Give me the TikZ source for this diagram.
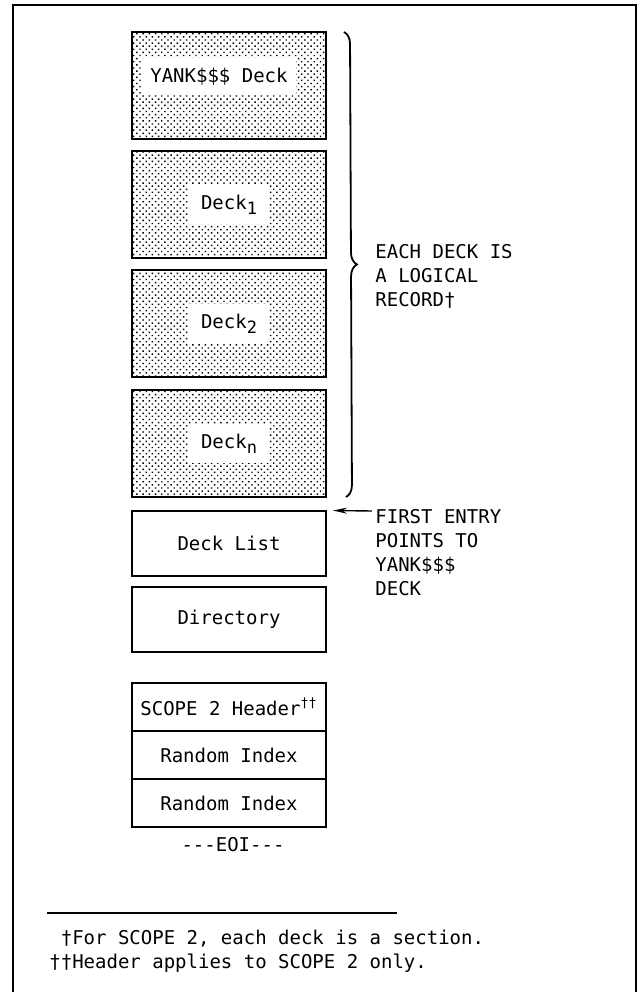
\documentclass[tikz,border=0pt]{standalone}
\usepackage{fontspec}
\usetikzlibrary{positioning,patterns.meta,decorations.pathreplacing,arrows.meta}
\newfontfamily\decktt{DejaVu Sans Mono}
\newcommand{\decksub}[1]{\raisebox{-2.6pt}{\fontsize{8.5}{10}\selectfont #1}}

\begin{document}
\begin{tikzpicture}[x=0.5pt, y=-0.5pt, >={Stealth[length=7pt, width=3pt]},
    every node/.style={font=\decktt\fontsize{9.5}{12}\selectfont},
    deckbox/.style={draw, line width=1pt, outer sep=0pt, minimum width=97pt, minimum height=53.5pt,
        pattern={Dots[distance=2.2pt, radius=0.5pt, angle=45]}, pattern color=black},
    decklabel/.style={fill=white, inner xsep=6pt, inner ysep=5pt},
    listbox/.style={draw, line width=1pt, outer sep=0pt, minimum width=97pt, minimum height=32.5pt},
    cellbox/.style={draw, line width=1pt, outer sep=0pt, inner sep=0pt, minimum width=97pt, minimum height=24pt},
    note/.style={align=left, anchor=west, inner sep=0pt}]

    % ==========================================
    % VARIABLE DEFINITIONS (pixel grid, y downwards)
    % ==========================================
    \pgfmathsetmacro{\Xbox}{229}     % centre line of the box column
    \pgfmathsetmacro{\Xnote}{375}    % left edge of the side notes
    \pgfmathsetmacro{\Xbrace}{344}   % x of the brace
    \pgfmathsetmacro{\Ytop}{32}      % top of first deck
    \pgfmathsetmacro{\Ybot}{497}     % bottom of last deck
    % ==========================================

    \useasboundingbox (0,0) rectangle (640,992);

    % Outer frame (open at the bottom)
    \draw[line width=1pt] (13,992) -- (13,5) -- (636,5) -- (636,992);

    % Decks (shaded logical records)
    \node[deckbox] (yank)    at (\Xbox, 85.5)  {};
    \node[deckbox] (deckone) at (\Xbox, 204.5) {};
    \node[deckbox] (decktwo) at (\Xbox, 323.5) {};
    \node[deckbox] (deckn)   at (\Xbox, 443.5) {};

    \node[decklabel, inner xsep=4pt] (yanklabel) at ([xshift=-5pt, yshift=4.5pt]yank.center) {YANK\$\$\$ Deck};
    \node[decklabel] (deckonelabel) at (deckone) {Deck\decksub{1}};
    \node[decklabel] (decktwolabel) at (decktwo) {Deck\decksub{2}};
    \node[decklabel] (decknlabel)   at (deckn)   {Deck\decksub{n}};

    % Deck list and directory
    \node[listbox] (decklist)  at (\Xbox, 543)   {Deck List};
    \node[listbox] (directory) at (\Xbox, 619.5) {Directory};

    % SCOPE 2 header and random indexes
    \node[cellbox] (header) at (\Xbox, 707) {SCOPE 2 Header\textsuperscript{††}};
    \node[cellbox, below=0pt of header]   (indexone) {Random Index};
    \node[cellbox, below=0pt of indexone] (indextwo) {Random Index};
    \node (eoi) at (233, 845) {-\kern0pt-\kern0pt-EOI-\kern0pt-\kern0pt-};

    % Brace over the decks
    \coordinate (bracetop) at (\Xbrace, \Ytop);
    \coordinate (bracebot) at (\Xbrace+2, \Ybot);
    \draw[decorate, decoration={brace, amplitude=6pt}, line width=0.9pt] (bracetop) -- (bracebot);
    \node[note] (recnote) at (\Xnote, 276) {EACH DECK IS\\A LOGICAL\\RECORD†};

    % Pointer to the deck list
    \node[note] (entrynote) at (\Xnote, 553) {FIRST ENTRY\\POINTS TO\\YANK\$\$\$\\DECK};
    \coordinate (arrowtail) at (372, 511);
    \draw[->, line width=0.7pt] (arrowtail) -- ([xshift=3.5pt]decklist.north east);

    % Footnotes
    \coordinate (ruleleft) at (47, 913);
    \coordinate (ruleright) at (397, 913);
    \draw[line width=1pt] (ruleleft) -- (ruleright);
    \node[note] (footnotes) at (49, 951.5) {\phantom{†}†For SCOPE 2, each deck is a section.\\††Header applies to SCOPE 2 only.};

\end{tikzpicture}
\end{document}
